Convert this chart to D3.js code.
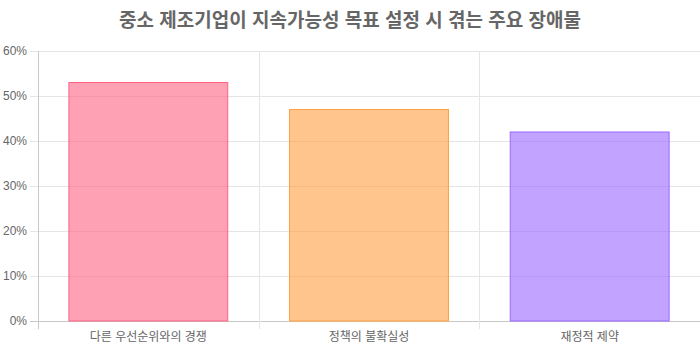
<!DOCTYPE html>
<html>
<head>
<meta charset="utf-8">
<script src="https://cdn.jsdelivr.net/npm/d3@7"></script>
<style>
  body { margin: 0; background: #fff; }
  text { font-family: "Liberation Sans", "Noto Sans CJK KR", sans-serif; }
</style>
</head>
<body>
<div id="chart"></div>
<script>
const categories = ["다른 우선순위와의 경쟁", "정책의 불확실성", "재정적 제약"];
const values = [53, 47, 42];
const fills = ["rgba(255, 99, 132, 0.6)", "rgba(255, 159, 64, 0.6)", "rgba(153, 102, 255, 0.6)"];
const borders = ["rgb(255, 99, 132)", "rgb(255, 159, 64)", "rgb(153, 102, 255)"];
const yTicks = [0, 10, 20, 30, 40, 50, 60];

const width = 700, height = 350;
const margin = { top: 51, right: 0, bottom: 29, left: 38 };

const svg = d3.select("#chart").append("svg")
    .attr("width", width)
    .attr("height", height);

const x = d3.scaleBand()
    .domain(categories)
    .range([margin.left, width - margin.right])
    .paddingInner(0)
    .paddingOuter(0);

const y = d3.scaleLinear()
    .domain([0, 60])
    .range([height - margin.bottom, margin.top]);

// horizontal grid + tick marks
svg.append("g").selectAll("line")
    .data(yTicks)
    .enter().append("line")
    .attr("x1", margin.left - 8)
    .attr("x2", width - margin.right)
    .attr("y1", d => Math.round(y(d)) + 0.5)
    .attr("y2", d => Math.round(y(d)) + 0.5)
    .attr("stroke", d => d === 0 ? "#c8c8c8" : "#e5e5e5")
    .attr("stroke-width", 1);

// vertical grid at category boundaries
const bounds = categories.map(c => x(c));
svg.append("g").selectAll("line")
    .data(bounds)
    .enter().append("line")
    .attr("x1", d => Math.round(d) + 0.5)
    .attr("x2", d => Math.round(d) + 0.5)
    .attr("y1", margin.top)
    .attr("y2", height - margin.bottom + 8)
    .attr("stroke", (d, i) => i === 0 ? "#c8c8c8" : "#e5e5e5")
    .attr("stroke-width", 1);

// y labels
svg.append("g").selectAll("text")
    .data(yTicks)
    .enter().append("text")
    .attr("x", margin.left - 11)
    .attr("y", d => y(d))
    .attr("dy", "0.35em")
    .attr("text-anchor", "end")
    .attr("fill", "#666")
    .style("font-size", "12px")
    .text(d => d + "%");

// bars
const barW = x.bandwidth() * 0.72;
svg.append("g").selectAll("rect")
    .data(values)
    .enter().append("rect")
    .attr("x", (d, i) => x(categories[i]) + (x.bandwidth() - barW) / 2)
    .attr("y", d => y(d))
    .attr("width", barW)
    .attr("height", d => y(0) - y(d))
    .attr("fill", (d, i) => fills[i])
    .attr("stroke", (d, i) => borders[i])
    .attr("stroke-width", 1);

// x labels
svg.append("g").selectAll("text")
    .data(categories)
    .enter().append("text")
    .attr("x", d => x(d) + x.bandwidth() / 2)
    .attr("y", height - margin.bottom + 16)
    .attr("dy", "0.35em")
    .attr("text-anchor", "middle")
    .attr("fill", "#666")
    .style("font-size", "12px")
    .text(d => d);

// title
svg.append("text")
    .attr("x", width / 2)
    .attr("y", 20)
    .attr("dy", "0.35em")
    .attr("text-anchor", "middle")
    .attr("fill", "#666")
    .style("font-size", "19px")
    .style("font-weight", "bold")
    .text("중소 제조기업이 지속가능성 목표 설정 시 겪는 주요 장애물");
</script>
</body>
</html>
